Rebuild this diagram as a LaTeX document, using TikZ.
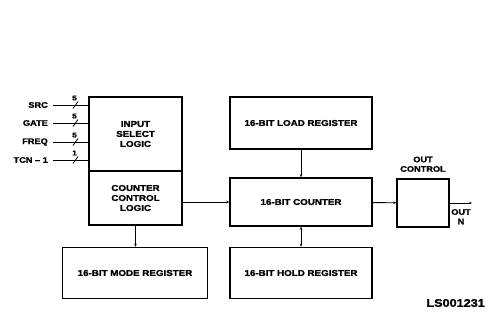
\documentclass[tikz,border=0pt]{standalone}
\usepackage{fontspec}
\setmainfont{Liberation Sans}[FakeBold=1.5,FakeStretch=1.15]
\usetikzlibrary{arrows.meta}

\tikzset{
  blk/.style={draw,line width=1.5pt,inner sep=0pt,align=center,
    font=\fontsize{8.5}{10}\selectfont\bfseries},
  lbl/.style={inner sep=0pt,font=\fontsize{8}{9.5}\selectfont\bfseries},
  conn/.style={line width=0.9pt},
  tip/.style={-{Stealth[length=3pt,width=2.5pt]}},
  bustip/.style={{Stealth[length=3pt,width=2.5pt]}-{Stealth[length=3pt,width=2.5pt]}},
}

\begin{document}
\begin{tikzpicture}[x=1pt,y=-1pt]
  \useasboundingbox (0,0) rectangle (486,329);
  % input select and counter control share one box
  \node[blk,minimum width=93,minimum height=74] (insel) at (135.5,134) {INPUT\\SELECT\\LOGIC};
  \node[blk,minimum width=93,minimum height=54] (ccl) at (135.5,198) {COUNTER\\CONTROL\\LOGIC};
  % registers and counter
  \node[blk,minimum width=142,minimum height=52] (load) at (301,123) {16-BIT LOAD REGISTER};
  \node[blk,minimum width=142,minimum height=48] (cnt) at (301,202) {16-BIT COUNTER};
  \node[blk,minimum width=142,minimum height=51] (hold) at (301,273) {16-BIT HOLD REGISTER};
  \node[blk,minimum width=145,minimum height=51] (mode) at (135,273) {16-BIT MODE REGISTER};
  \node[blk,minimum width=52,minimum height=48] (outc) at (423,203) {};
  \node[lbl,align=center,anchor=south] (outlbl) at (423,172) {OUT\\CONTROL};
  % inputs
  \foreach \name/\txt/\yy/\w in {src/SRC/105/5,gate/GATE/123/5,freq/FREQ/142/5,tcn/TCN -- 1/160/1} {
    \node[lbl,anchor=east] (\name) at (48,\yy) {\txt};
    \draw[conn] (\name.east) ++(5,0) coordinate (\name a) -- (\name a -| insel.west);
    \draw[line width=0.8pt] (73,\yy+3.5) -- (78,\yy-3.5);
    \node[lbl,font=\fontsize{7}{8}\selectfont\bfseries] at (74.5,\yy-7) {\w};
  }
  % connectors
  \draw[conn,tip] (ccl.east |- cnt.west) -- (cnt.west);
  \draw[conn,tip] (load) -- (cnt);
  \draw[conn,bustip] (cnt) -- (hold);
  \draw[conn,tip] (ccl) -- (ccl |- mode.north);
  \draw[conn,tip] (cnt) -- (outc);
  \coordinate (outend) at (472,203);
  \draw[conn,tip] (outc.east) -- (outend);
  \node[lbl,align=center,anchor=north] (outn) at (461,209) {OUT\\N};
  \node[lbl,anchor=east,font=\fontsize{11}{12}\selectfont\bfseries] (code) at (485,303) {LS001231};
\end{tikzpicture}
\end{document}
